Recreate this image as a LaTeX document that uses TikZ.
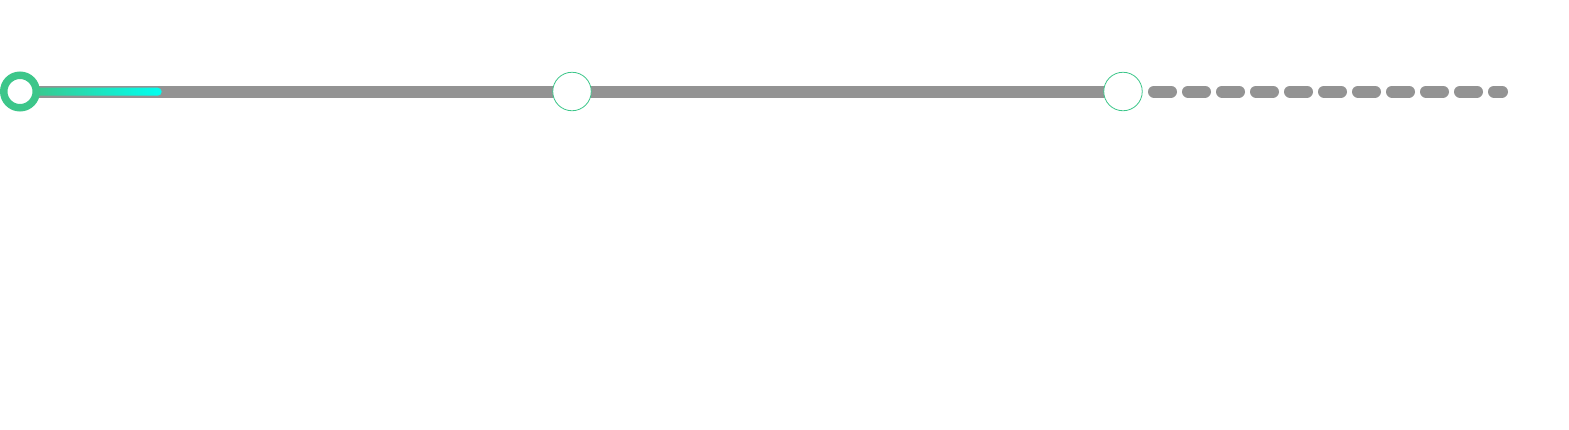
\documentclass[tikz,border=0pt]{standalone}
\usetikzlibrary{positioning,calc,backgrounds}
\definecolor{track_color}{RGB}{147,147,147}
\definecolor{done_color}{RGB}{60,198,138}
\definecolor{glow_color}{RGB}{0,255,240}
\tikzset{
  stepdone/.style={
    draw=done_color, line width=7.5pt, fill=white, circle,
    minimum size=32.5pt, inner sep=0pt, outer sep=0pt
  },
  stepopen/.style={
    draw=done_color, line width=0.8pt, fill=white, circle,
    minimum size=38.5pt, inner sep=0pt, outer sep=0pt
  },
  tracklink/.style={track_color, line width=12pt},
  futurelink/.style={track_color, line width=12pt, line cap=round,
    dash pattern=on 17pt off 17pt}
}

\begin{document}
\begin{tikzpicture}[x=1pt, y=-1pt]
\useasboundingbox (0,0) rectangle (1569,429);

\node[stepdone] (step1) at (20,91.5) {};
\node[stepopen] (step2) at (572,91.5) {};
\node[stepopen] (step3) at (1123,91.5) {};
\coordinate (track_end) at (1502,91.5);

\begin{scope}[on background layer]
\draw[tracklink] (step1.center) -- (step2.center);
\draw[tracklink] (step2.center) -- (step3.center);
\draw[futurelink] ($(step3.east)+(11.75,0)$) -- (track_end);
% progress bar
\shade[left color=done_color, right color=glow_color, rounded corners=4pt]
  (30,87.7) rectangle (161.7,95.7);
\end{scope}

\end{tikzpicture}
\end{document}
